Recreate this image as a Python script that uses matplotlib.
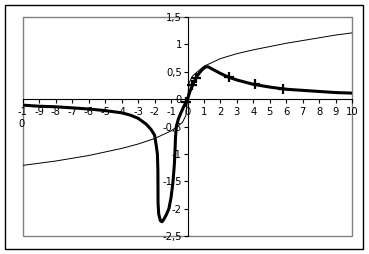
import matplotlib
matplotlib.use("Agg")
import matplotlib.pyplot as plt
from matplotlib.patches import Rectangle

# thin curve
thin_x = [-10, -8, -6, -4, -3, -2, -1, -0.6, -0.3, -0.1, 0, 0.1, 0.3, 0.6, 1, 2, 3, 4, 5, 6, 7, 8, 9, 10]
thin_y = [-1.21, -1.13, -1.03, -0.9, -0.82, -0.72, -0.58, -0.5, -0.42, -0.3, 0, 0.3, 0.42, 0.5, 0.6, 0.74, 0.83, 0.9, 0.96, 1.02, 1.07, 1.12, 1.17, 1.21]

# thick curve
thick_x = [-10, -9, -8, -7, -6, -5, -4, -3.5, -3, -2.5, -2.2, -2.0, -1.9, -1.83, -1.8, -1.79, -1.75, -1.65, -1.55, -1.45, -1.3, -1.13, -1.0, -0.88, -0.8, -0.76, -0.73, -0.68, -0.55, -0.4, -0.2, -0.1, 0, 0.15, 0.3, 0.5, 0.7, 0.9, 1.1, 1.25, 1.5, 2, 2.5, 3, 4, 5, 6, 7, 8, 9, 10]
thick_y = [-0.11, -0.13, -0.14, -0.16, -0.18, -0.21, -0.25, -0.29, -0.35, -0.46, -0.56, -0.66, -0.85, -1.0, -1.3, -1.9, -2.1, -2.22, -2.24, -2.2, -2.12, -2.0, -1.8, -1.5, -1.2, -0.95, -0.7, -0.5, -0.36, -0.25, -0.12, -0.06, 0, 0.14, 0.25, 0.38, 0.47, 0.54, 0.59, 0.59, 0.55, 0.47, 0.4, 0.35, 0.27, 0.22, 0.18, 0.16, 0.14, 0.12, 0.11]

# marker points on the thick curve
mark_x = [-0.1, 0.3, 0.5, 2.5, 4.1, 5.8]
mark_y = [-0.06, 0.25, 0.38, 0.4, 0.27, 0.18]

x_ticks = list(range(-10, 11))
x_labels = ["-1\n0"] + [str(v) for v in range(-9, 11)]
y_ticks = [1.5, 1, 0.5, 0, -0.5, -1, -1.5, -2, -2.5]
y_labels = ["1,5", "1", "0,5", "0", "-0,5", "-1", "-1,5", "-2", "-2,5"]

W, H = 369, 254
fig = plt.figure(figsize=(W / 100, H / 100), dpi=100)
fig.patch.set_facecolor("white")

# outer frame
fig.patches.append(Rectangle((5 / W, 5 / H), (363 - 5) / W, (249 - 5) / H,
                             transform=fig.transFigure, fill=False,
                             edgecolor="black", linewidth=1.0))

ax = fig.add_axes([23 / W, 1 - 236 / H, (352 - 23) / W, (236 - 17) / H])
ax.set_xlim(-10, 10)
ax.set_ylim(-2.5, 1.5)

# plot area border
ax.add_patch(Rectangle((0, 0), 1, 1, transform=ax.transAxes, fill=False,
                       edgecolor="#808080", linewidth=1.0, clip_on=False, zorder=0))

for s in ["top", "right"]:
    ax.spines[s].set_visible(False)
ax.spines["left"].set_position(("data", 0))
ax.spines["bottom"].set_position(("data", 0))
ax.spines["left"].set_linewidth(0.8)
ax.spines["bottom"].set_linewidth(0.8)

ax.plot(thin_x, thin_y, color="black", linewidth=0.7)
ax.plot(thick_x, thick_y, color="black", linewidth=2.2, solid_joinstyle="round")
ax.plot(mark_x, mark_y, linestyle="none", marker="+", markersize=7,
        markeredgewidth=1.6, color="black")

ax.set_xticks(x_ticks)
ax.set_xticklabels(x_labels, fontsize=7.2, multialignment="left")
ax.set_yticks(y_ticks)
ax.set_yticklabels(y_labels, fontsize=7.2)
ax.tick_params(axis="x", direction="out", length=3, width=0.8, pad=3)
ax.tick_params(axis="y", direction="out", length=3, width=0.8, pad=1)

fig.savefig("out.png", dpi=100)
